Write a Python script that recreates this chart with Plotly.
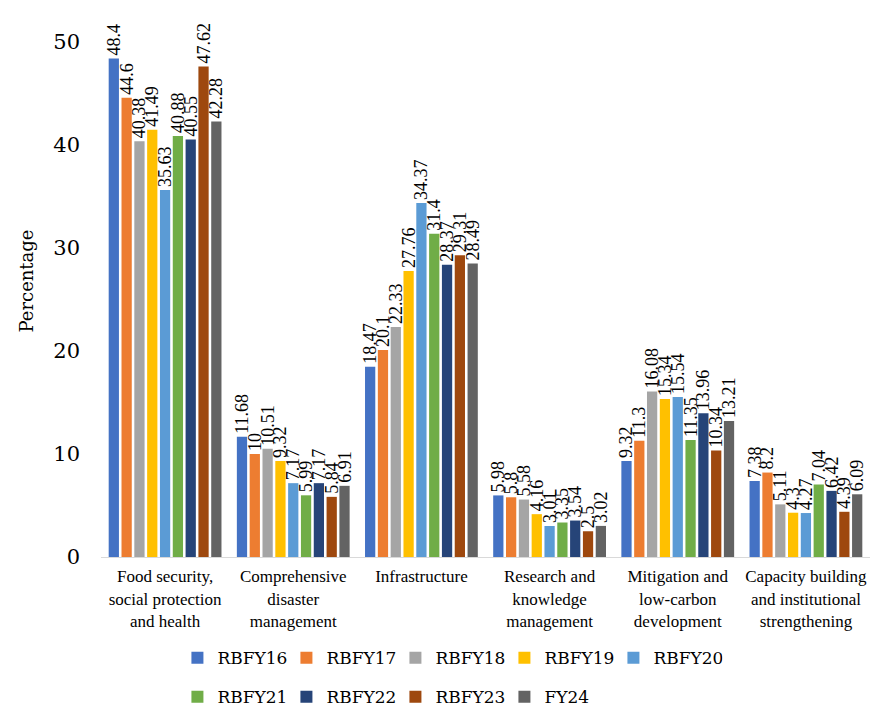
import plotly.graph_objects as go

categories = [
    "Food security,<br>social protection<br>and health",
    "Comprehensive<br>disaster<br>management",
    "Infrastructure",
    "Research and<br>knowledge<br>management",
    "Mitigation and<br>low-carbon<br>development",
    "Capacity building<br>and institutional<br>strengthening",
]

series_names = ["RBFY16", "RBFY17", "RBFY18", "RBFY19", "RBFY20",
                "RBFY21", "RBFY22", "RBFY23", "FY24"]

rbfy16 = [48.4, 11.68, 18.47, 5.98, 9.32, 7.38]
rbfy17 = [44.6, 10, 20.1, 5.8, 11.3, 8.2]
rbfy18 = [40.38, 10.51, 22.33, 5.58, 16.08, 5.11]
rbfy19 = [41.49, 9.32, 27.76, 4.16, 15.34, 4.3]
rbfy20 = [35.63, 7.17, 34.37, 3.01, 15.54, 4.27]
rbfy21 = [40.88, 5.99, 31.4, 3.35, 11.35, 7.04]
rbfy22 = [40.55, 7.17, 28.37, 3.54, 13.96, 6.42]
rbfy23 = [47.62, 5.84, 29.31, 2.5, 10.34, 4.39]
fy24 = [42.28, 6.91, 28.49, 3.02, 13.21, 6.09]

series_values = [rbfy16, rbfy17, rbfy18, rbfy19, rbfy20,
                 rbfy21, rbfy22, rbfy23, fy24]

colors = ["#4472C4", "#ED7D31", "#A5A5A5", "#FFC000", "#5B9BD5",
          "#70AD47", "#264478", "#9E480E", "#636363"]

fig = go.Figure()
for i, (name, vals, col) in enumerate(zip(series_names, series_values, colors)):
    fig.add_trace(go.Bar(
        name=name,
        x=categories,
        y=vals,
        marker=dict(color=col, line=dict(width=0)),
        text=[f"{v:g}" for v in vals],
        textposition="outside",
        textangle=-90,
        constraintext="none",
        cliponaxis=False,
        textfont=dict(family="Liberation Serif", size=18, color="#000000"),
        legend="legend" if i < 5 else "legend2",
    ))

# two legend rows: five series on top, four below
legend_style = dict(
    orientation="h", xref="container", yref="container",
    x=0.203, xanchor="left", yanchor="middle",
    font=dict(family="DejaVu Serif", size=17, color="#000000"),
    itemwidth=30, entrywidth=64, traceorder="normal",
    bgcolor="rgba(0,0,0,0)",
)

fig.update_layout(
    width=874,
    height=707,
    margin=dict(l=101, r=4, t=5, b=150, autoexpand=False),
    paper_bgcolor="white",
    plot_bgcolor="white",
    barmode="group",
    bargap=0.1,
    bargroupgap=0.2,
    font=dict(family="DejaVu Serif", color="#000000"),
    legend=dict(legend_style, y=0.069),
    legend2=dict(legend_style, y=0.014),
    showlegend=True,
)

fig.update_xaxes(
    showline=True, linecolor="#D9D9D9", linewidth=1,
    ticks="", showgrid=False, ticklabelstandoff=4,
    tickfont=dict(family="Liberation Serif", size=17, color="#000000"),
)
fig.update_yaxes(
    range=[0, 53.6], tickvals=[0, 10, 20, 30, 40, 50],
    showgrid=False, showline=False, zeroline=False, ticks="",
    ticklabelstandoff=20,
    tickfont=dict(family="DejaVu Serif", size=21, color="#000000"),
    title=dict(text="Percentage", standoff=14,
               font=dict(family="DejaVu Serif", size=18, color="#000000")),
)

fig.write_html("out.html")
